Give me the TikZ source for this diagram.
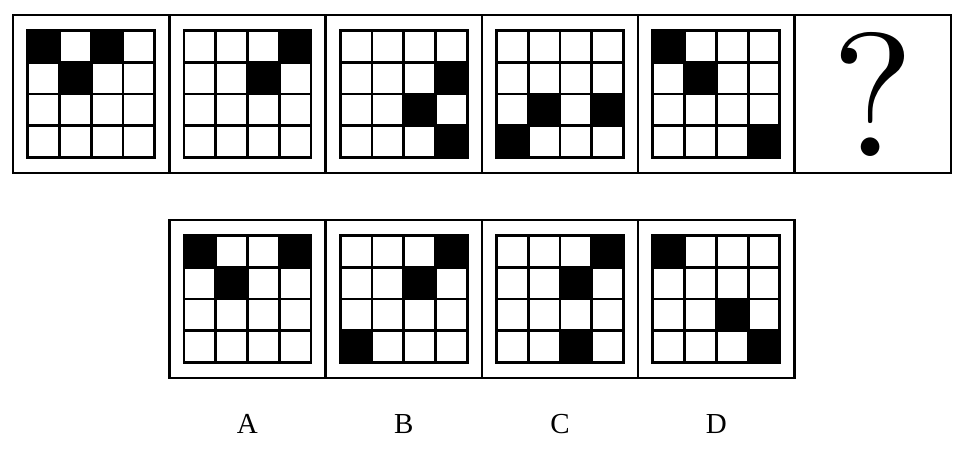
\documentclass[tikz,border=0pt]{standalone}
\usepackage{amsmath}
\usepackage{fontspec}
\newfontfamily\labelfont{Liberation Serif}
\newfontfamily\markfont[Extension=.otf]{lmroman10-regular}
\usetikzlibrary{positioning}

\tikzset{
  panel/.style={draw, line width=2.4pt, minimum width=156.3pt, minimum height=158pt, inner sep=0pt, outer sep=0pt},
  gridline/.style={line width=2.8pt, line cap=rect},
  answer/.style={font=\labelfont\fontsize{29}{32}\selectfont},
}

% 4x4 grid centred on a panel, black cells given as row/col
\newcommand{\blockgrid}[2]{%
  \begin{scope}[shift={(#1.center)}]
    \foreach \r/\c in {#2}
      \fill ({(\c-3)*31.75},{(\r-3)*31.75}) rectangle ++(31.75,31.75);
    \foreach \i in {0,...,4} {
      \draw[gridline] ({-63.5+\i*31.75},-63.5) -- ++(0,127);
      \draw[gridline] (-63.5,{-63.5+\i*31.75}) -- ++(127,0);
    }
  \end{scope}}

\begin{document}
\begin{tikzpicture}[x=1pt,y=-1pt]
  \useasboundingbox[fill=white] (0,0) rectangle (972,450);

  % question row
  \node (p1) [panel] at (91.15,94) {};
  \node (p2) [panel] at (247.45,94) {};
  \node (p3) [panel] at (403.75,94) {};
  \node (p4) [panel] at (560.05,94) {};
  \node (p5) [panel] at (716.35,94) {};
  \node (p6) [panel] at (872.65,94) {};

  \blockgrid{p1}{1/1,1/3,2/2}
  \blockgrid{p2}{1/4,2/3}
  \blockgrid{p3}{2/4,3/3,4/4}
  \blockgrid{p4}{3/2,3/4,4/1}
  \blockgrid{p5}{1/1,2/2,4/4}
  \node (qm) [font=\markfont\fontsize{176}{176}\selectfont] at (p6.center) {?};

  % options row
  \node (oa) [panel] at (247.45,299) {};
  \node (ob) [panel] at (403.75,299) {};
  \node (oc) [panel] at (560.05,299) {};
  \node (od) [panel] at (716.35,299) {};

  \blockgrid{oa}{1/1,1/4,2/2}
  \blockgrid{ob}{1/4,2/3,4/1}
  \blockgrid{oc}{1/4,2/3,4/3}
  \blockgrid{od}{1/1,3/3,4/4}

  \node (la) [answer, below=33pt of oa] {A};
  \node (lb) [answer, below=33pt of ob] {B};
  \node (lc) [answer, below=33pt of oc] {C};
  \node (ld) [answer, below=33pt of od] {D};
\end{tikzpicture}
\end{document}
